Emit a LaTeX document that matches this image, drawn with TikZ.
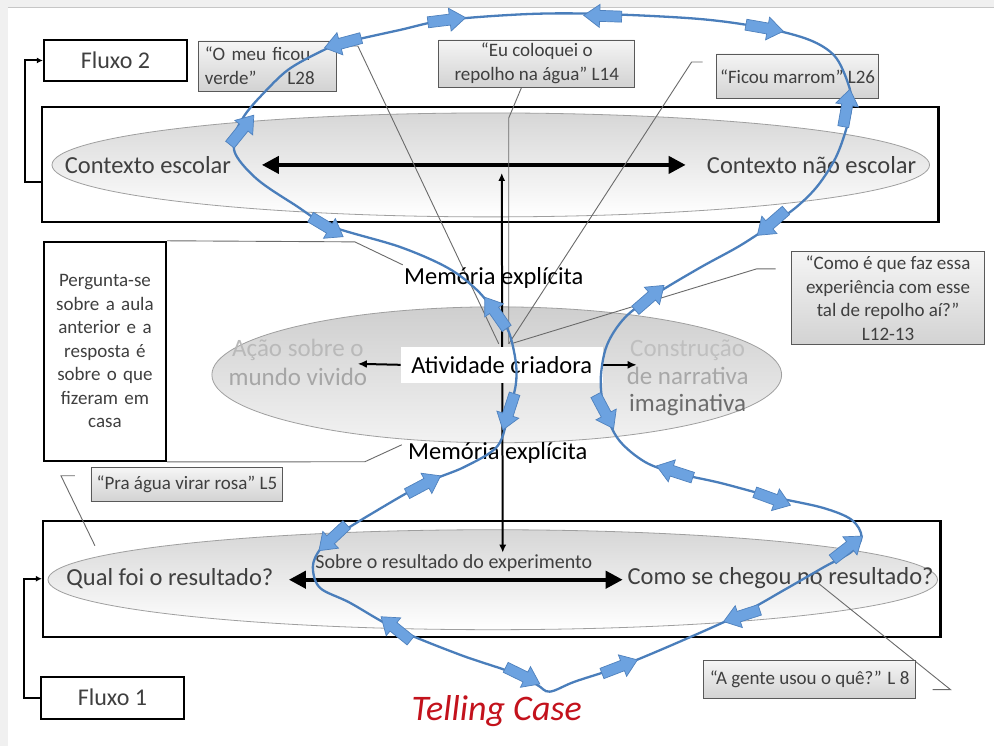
\documentclass[tikz,border=0pt]{standalone}
\usepackage{fontspec}
\setmainfont{Carlito}
\usetikzlibrary{shapes.geometric,arrows.meta}
\definecolor{txt}{HTML}{3F3F3F}
\definecolor{curveblue}{HTML}{4A7EBB}
\definecolor{arrblue}{HTML}{6CA2E0}
\definecolor{arredge}{HTML}{4F81BD}
\definecolor{callline}{HTML}{6A6A6A}
\definecolor{tellred}{HTML}{C3121C}
\begin{document}
\begin{tikzpicture}[x=1pt,y=-1pt,
  bigbox/.style={draw=black,line width=2.2pt,fill=white,inner sep=0pt},
  ctxell/.style={ellipse,draw=gray!75,line width=0.8pt,top color=gray!32,bottom color=white,inner sep=0pt},
  midell/.style={ellipse,draw=gray!75,line width=0.8pt,top color=gray!38,bottom color=gray!10,inner sep=0pt},
  bigtxt/.style={font=\fontsize{24.5}{29}\selectfont,text=txt,inner sep=0pt},
  memtxt/.style={font=\fontsize{24.5}{29}\selectfont,text=black,inner sep=0pt},
  quote/.style={draw=gray!70!black,line width=0.9pt,top color=gray!8,bottom color=gray!35,font=\fontsize{19}{23.5}\selectfont,text=txt,inner sep=0pt,align=center},
  thickarr/.style={line width=4pt,{Triangle[width=17pt,length=17pt]}-{Triangle[width=17pt,length=17pt]}},
  smallarr/.style={line width=2pt,-{Latex[length=9pt,width=8pt]}},
  callout/.style={draw=callline,line width=0.9pt},
  flowline/.style={line width=2pt,-{Latex[length=6pt,width=6pt]}},
  blockarr/.pic={\filldraw[fill=arrblue,draw=arredge,line width=0.7pt]
     (-19,-5.5) -- (3,-5.5) -- (3,-11.5) -- (19,0) -- (3,11.5) -- (3,5.5) -- (-19,5.5) -- cycle;}
]
% background
\fill[gray!12] (0,0) rectangle (994,746);
\fill[white] (8,8) rectangle (994,746);
\draw[gray!45,line width=1pt] (8,8) -- (994,8);
\useasboundingbox (0,0) rectangle (994,746);

% big context boxes
\node[bigbox,minimum width=897pt,minimum height=115pt] (topbox) at (490.5,164.5) {};
\node[bigbox,minimum width=898pt,minimum height=116pt] (botbox) at (492,579) {};
\node[ctxell,minimum width=878pt,minimum height=104pt] (topell) at (491,165) {};
\node[ctxell,minimum width=890pt,minimum height=100pt] (botell) at (493,580) {};

% flux boxes
\node[bigbox,minimum width=143pt,minimum height=41pt,font=\fontsize{24}{28}\selectfont,text=txt] (fluxo2) at (115.5,60.5) {Fluxo 2};
\node[bigbox,minimum width=143pt,minimum height=42pt,font=\fontsize{24}{28}\selectfont,text=txt] (fluxo1) at (112.5,698) {Fluxo 1};
\draw[flowline] ([yshift=-17.5pt]topbox.west) -- ++(-16,0) |- (fluxo2.west);
\draw[flowline] (fluxo1.west) -- ++(-16,0) |- (botbox.west);

% left explanation box
\node[bigbox,minimum width=122pt,minimum height=219pt,text width=116pt,align=center,
      font=\fontsize{19}{23.5}\selectfont,text=txt] (pergunta) at (105,351.5)
  {Pergunta-se\\sobre a aula\\anterior e a\\resposta é\\sobre o que\\fizeram em\\casa};

% middle ellipse
\node[midell,minimum width=570pt,minimum height=136pt] (midell) at (497,375) {};
\node[bigtxt,align=center,font=\fontsize{25}{29}\selectfont] (acao) at (298,363)
  {\textcolor{gray!55}{Ação sobre o}\\\textcolor{gray!70}{mundo vivido}};
\node[bigtxt,align=center,font=\fontsize{25}{27.5}\selectfont] (constr) at (688,378)
  {\textcolor{gray!50}{Construção}\\\textcolor{gray!68}{de narrativa}\\\textcolor{gray!85!black}{imaginativa}};

% ellipse texts
\node[bigtxt] (escolar) at (148,165) {Contexto escolar};
\node[bigtxt] (naoescolar) at (812,165) {Contexto não escolar};
\node[bigtxt] (qual) at (170,579) {Qual foi o resultado?};
\node[bigtxt] (como) at (781,578) {Como se chegou no resultado?};
\node[font=\fontsize{20}{24}\selectfont,text=txt,inner sep=0pt] (sobre) at (454,563) {Sobre o resultado do experimento};

% thick double arrows
\coordinate (t1) at (262,165); \coordinate (t2) at (686,165);
\draw[thickarr] (t1) -- (t2);
\coordinate (b1) at (289,580); \coordinate (b2) at (623,580);
\draw[thickarr] (b1) -- (b2);

% vertical arrow
\coordinate (vtop) at (502,173); \coordinate (vbot) at (503,553);
\draw[line width=2pt,{Latex[length=8pt,width=7pt]}-{Latex[length=8pt,width=7pt]}] (vtop) -- (vbot);

% callout lines
\coordinate (apexL) at (499,344);
\coordinate (apexR) at (509,344);
\coordinate (apexR2) at (511,344);
\coordinate (c1a) at (338,46); \coordinate (c1b) at (358,46);
\draw[callout] (c1a) -- (c1b) -- (apexL);
\coordinate (c2a) at (522,87); \coordinate (c2b) at (509,118);
\draw[callout] (c2a) -- (c2b) -- (apexR);
\coordinate (c3a) at (703,62); \coordinate (c3b) at (692,62);
\draw[callout] (c3a) -- (c3b) -- (apexR);
\coordinate (c4a) at (776,269); \coordinate (c4b) at (757,269);
\draw[callout] (c4a) -- (c4b) -- (apexR2);
\coordinate (m1a) at (355,242); \coordinate (m1b) at (403,265);
\draw[callout] (pergunta.north east) -- (m1a) -- (m1b);
\coordinate (m2a) at (365,462); \coordinate (m2b) at (402,445);
\draw[callout] (pergunta.south east) -- (m2a) -- (m2b);
\coordinate (p1) at (75,476); \coordinate (p2) at (61,476); \coordinate (p3) at (95,546);
\draw[callout] (p1) -- (p2) -- (p3);
\coordinate (g1) at (933,690); \coordinate (g2) at (951,690); \coordinate (g3) at (818,583);
\draw[callout] (g1) -- (g2) -- (g3);

% atividade criadora
\node[fill=white,minimum width=202pt,minimum height=36pt,inner sep=0pt,font=\fontsize{24.5}{29}\selectfont] (ativ) at (502,365) {Atividade criadora};
\coordinate (aL) at (358,364); \coordinate (aR) at (637,365);
\draw[smallarr] (ativ.west) -- (aL);
\draw[smallarr] (ativ.east) -- (aR);

% memoria
\node[memtxt] (mem1) at (494,278) {Memória explícita};
\node[memtxt] (mem2) at (498,453) {Memória explícita};

% quote boxes
\node[quote,minimum width=138pt,minimum height=50pt,align=left,text width=126pt] (q1) at (268,66)
  {“O meu ficou\\verde”\hspace{31pt}L28};
\node[quote,minimum width=196pt,minimum height=47pt] (q2) at (537,63.5)
  {“Eu coloquei o\\repolho na água” L14};
\node[quote,minimum width=162pt,minimum height=45pt] (q3) at (798,76.5) {“Ficou marrom” L26};
\node[quote,minimum width=192pt,minimum height=34pt] (q4) at (187,485) {“Pra água virar rosa” L5};
\node[quote,minimum width=193pt,minimum height=93pt] (q5) at (888.5,298.5)
  {“Como é que faz essa\\experiência com esse\\tal de repolho aí?”\\L12-13};
\node[quote,minimum width=212pt,minimum height=38pt] (q6) at (810,680) {“A gente usou o quê?” L 8};

% blue loop
\draw[curveblue,line width=2.3pt] plot[smooth cycle,tension=0.55] coordinates {
 (320,52) (343,43) (400,30) (447,20) (530,14) (603,14) (700,19) (765,28) (810,40)
 (835,56) (848,82) (852,103) (847,128) (836,158) (818,186) (797,207) (772,225)
 (740,246) (700,268) (655,295) (625,318) (607,346) (601,380) (605,410) (619,440)
 (645,462) (675,473) (720,483) (773,497) (823,508) (852,520) (862,537) (852,552)
 (825,567) (785,590) (742,614) (680,642) (620,667) (575,682) (550,692) (537,685)
 (510,672) (460,655) (396,629) (350,603) (320,588) (313,567) (320,550) (335,537)
 (370,515) (424,484) (465,467) (498,446) (509,412) (516,385) (516,362) (509,332)
 (496,313) (477,290) (448,268) (400,247) (330,226) (295,205) (258,180) (236,155)
 (235,135) (245,115) (262,95) (288,70)};

% block arrows on the loop
\pic[rotate=195] at (343,43) {blockarr};
\pic[rotate=7] at (447,20) {blockarr};
\pic[rotate=178] at (603,16) {blockarr};
\pic[rotate=-10] at (765,28) {blockarr};
\pic[rotate=80] at (847,108) {blockarr};
\pic[rotate=221] at (772,223) {blockarr};
\pic[rotate=41] at (650,298) {blockarr};
\pic[rotate=-62] at (605,412) {blockarr};
\pic[rotate=162] at (675,472) {blockarr};
\pic[rotate=-20] at (773,499) {blockarr};
\pic[rotate=38] at (848,548) {blockarr};
\pic[rotate=198] at (742,616) {blockarr};
\pic[rotate=21] at (620,667) {blockarr};
\pic[rotate=-26] at (523,676) {blockarr};
\pic[rotate=141] at (396,629) {blockarr};
\pic[rotate=223] at (333,538) {blockarr};
\pic[rotate=28] at (424,485) {blockarr};
\pic[rotate=252] at (509,412) {blockarr};
\pic[rotate=125] at (496,313) {blockarr};
\pic[rotate=-31] at (327,227) {blockarr};
\pic[rotate=51] at (242,130) {blockarr};

% title
\node[font=\fontsize{36}{40}\selectfont\itshape,text=tellred,inner sep=0pt] (telling) at (497,711) {Telling Case};
\end{tikzpicture}
\end{document}
